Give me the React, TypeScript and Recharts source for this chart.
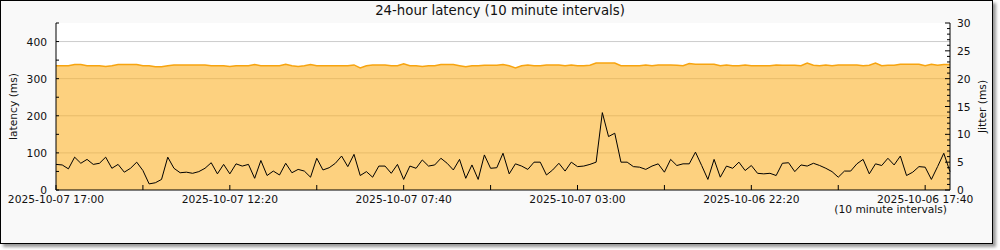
import { ComposedChart, Area, Line, XAxis, YAxis, CartesianGrid } from 'recharts'

// 10 minute samples, newest (2025-10-07 17:00) on the left
const latencyMs = [
  335, 335, 335, 338, 338, 335, 335, 335, 333, 335,
  338, 338, 338, 338, 335, 335, 332, 332, 335, 337,
  337, 337, 337, 337, 337, 335, 335, 335, 333, 335,
  335, 335, 338, 335, 335, 335, 335, 339, 335, 333,
  335, 338, 335, 335, 335, 335, 335, 335, 337, 329,
  335, 337, 337, 337, 335, 335, 340, 335, 335, 333,
  335, 335, 338, 338, 338, 335, 332, 335, 335, 336,
  336, 336, 338, 335, 329, 335, 337, 335, 335, 337,
  337, 337, 335, 337, 335, 335, 336, 342, 342, 342,
  342, 335, 335, 335, 335, 337, 335, 337, 337, 337,
  336, 335, 341, 339, 339, 339, 339, 335, 337, 335,
  335, 337, 335, 335, 335, 335, 337, 336, 336, 336,
  335, 342, 336, 335, 337, 335, 337, 337, 337, 337,
  335, 336, 342, 335, 336, 336, 339, 339, 339, 339,
  335, 339, 336, 338, 338,
]

const jitterMs = [
  4.6, 4.5, 3.8, 5.9, 4.8, 5.5, 4.6, 4.8, 5.9, 3.9,
  4.6, 3.2, 3.9, 5.0, 3.5, 1.1, 1.3, 1.9, 5.9, 3.9,
  3.1, 3.2, 3.0, 3.3, 3.9, 4.9, 2.9, 4.6, 2.9, 4.7,
  4.3, 4.6, 2.1, 5.3, 2.6, 3.4, 2.7, 4.8, 3.1, 3.7,
  3.4, 2.3, 5.7, 3.6, 4.0, 4.8, 6.1, 4.2, 6.4, 2.6,
  3.3, 2.3, 4.3, 4.3, 3.0, 4.6, 1.9, 4.3, 3.9, 5.4,
  4.3, 4.5, 5.7, 4.8, 3.6, 5.5, 2.1, 4.5, 1.9, 6.3,
  3.9, 4.0, 6.6, 2.9, 4.7, 4.3, 3.7, 5.0, 5.0, 2.7,
  3.6, 4.8, 3.4, 5.0, 4.2, 4.3, 4.6, 5.0, 13.9, 9.6,
  10.2, 5.0, 5.0, 4.2, 4.1, 3.7, 4.3, 4.7, 3.2, 5.5,
  4.4, 4.7, 4.7, 6.8, 4.4, 1.9, 5.5, 2.3, 4.3, 3.9,
  5.0, 3.5, 4.4, 3.0, 2.9, 3.0, 2.6, 4.8, 4.9, 3.3,
  4.5, 4.3, 4.8, 4.4, 3.9, 3.3, 2.3, 3.4, 3.4, 4.7,
  5.5, 2.9, 4.7, 4.4, 5.7, 4.5, 6.1, 2.6, 3.2, 4.2,
  4.1, 1.9, 4.2, 6.6, 3.3,
]

const labelIndex = [0, 28, 56, 84, 112, 140]
const timeLabels = [
  '2025-10-07 17:00',
  '2025-10-07 12:20',
  '2025-10-07 07:40',
  '2025-10-07 03:00',
  '2025-10-06 22:20',
  '2025-10-06 17:40',
]
const xTicks = [0, 14, 28, 42, 56, 70, 84, 98, 112, 126, 140]
const latencyTicks = [0, 50, 100, 150, 200, 250, 300, 350, 400, 450]
const jitterTicks = Array.from({ length: 31 }, (_, k) => k)
const gridTicks = [100, 200, 300, 400]
const latencyMax = 450

const data = latencyMs.map((v, i) => ({ i, latency: v, jitter: jitterMs[i] }))

const FONT = "'DejaVu Sans', sans-serif"
const FS = 10.7

const LeftTick = (props: any) => {
  const { x, y, payload } = props
  const v = payload.value
  const ax = x + 9
  return (
    <g>
      <line x1={ax} x2={ax + 3} y1={y} y2={y} stroke="#000" />
      {v % 100 === 0 && v < 450 && (
        <text x={x} y={y + 4} textAnchor="end" fontFamily={FONT} fontSize={FS} fill="#111">
          {v}
        </text>
      )}
    </g>
  )
}

const RightTick = (props: any) => {
  const { x, y, payload } = props
  const v = payload.value
  const ax = x - 7
  const major = v % 5 === 0
  return (
    <g>
      <line x1={ax} x2={ax - (major ? 5 : 3)} y1={y} y2={y} stroke="#000" />
      {major && (
        <text x={x} y={y + 4} textAnchor="start" fontFamily={FONT} fontSize={FS} fill="#111">
          {v}
        </text>
      )}
    </g>
  )
}

const BottomTick = (props: any) => {
  const { x, y, payload } = props
  const k = labelIndex.indexOf(payload.value)
  return (
    <g>
      <line x1={x} x2={x} y1={y} y2={y - 5} stroke="#000" />
      {k >= 0 && (
        <text x={x} y={y + 13} textAnchor="middle" fontFamily={FONT} fontSize={FS} fill="#111">
          {timeLabels[k]}
        </text>
      )}
    </g>
  )
}

const sideLabel = (text: string, dx: number) => (props: any) => {
  const vb = props.viewBox
  const cx = vb.x + dx
  const cy = vb.y + vb.height / 2
  return (
    <text
      x={cx}
      y={cy}
      transform={`rotate(-90 ${cx} ${cy})`}
      textAnchor="middle"
      dominantBaseline="central"
      fontFamily={FONT}
      fontSize={FS}
      fill="#111"
    >
      {text}
    </text>
  )
}

const intervalLabel = (props: any) => {
  const vb = props.viewBox
  return (
    <text x={vb.x + vb.width - 3} y={vb.y + 23} textAnchor="end" fontFamily={FONT} fontSize={FS} fill="#111">
      (10 minute intervals)
    </text>
  )
}

// grid only at the labelled latency values
const gridRows = ({ yAxis, offset }: any) => {
  if (yAxis && typeof yAxis.scale === 'function') return gridTicks.map((v) => yAxis.scale(v))
  return gridTicks.map((v) => offset.top + offset.height * (1 - v / latencyMax))
}

export default function App() {
  return (
    <div style={{ position: 'absolute', left: 0, top: 0, width: 1000, height: 250 }}>
      <div
        style={{
          position: 'absolute',
          left: 0,
          top: 0,
          width: 991,
          height: 242,
          background: '#f9f9f9',
          border: '1px solid #000',
          boxShadow: '3px 3px 3px #999',
        }}
      />
      <div
        style={{
          position: 'absolute',
          left: 0,
          top: 3,
          width: 1000,
          textAlign: 'center',
          fontFamily: FONT,
          fontSize: 13.3,
          lineHeight: '15px',
          color: '#111',
        }}
      >
        24-hour latency (10 minute intervals)
      </div>
      <div style={{ position: 'absolute', left: 0, top: 0 }}>
        <ComposedChart
          width={1000}
          height={250}
          data={data}
          margin={{ top: 23, right: 0, left: 0, bottom: 40 }}
        >
          <CartesianGrid
            yAxisId="left"
            vertical={false}
            stroke="#cccccc"
            fill="#ffffff"
            horizontalCoordinatesGenerator={gridRows}
          />
          <XAxis
            dataKey="i"
            type="number"
            domain={[0, 144]}
            ticks={xTicks}
            interval={0}
            height={20}
            axisLine={{ stroke: '#000' }}
            tickLine={false}
            tickSize={0}
            tickMargin={0}
            tick={BottomTick}
            label={{ content: intervalLabel }}
          />
          <YAxis
            yAxisId="left"
            orientation="left"
            width={56}
            domain={[0, latencyMax]}
            ticks={latencyTicks}
            interval={0}
            axisLine={{ stroke: '#000' }}
            tickLine={false}
            tickSize={0}
            tickMargin={9}
            tick={LeftTick}
            label={{ content: sideLabel('latency (ms)', 13.5) }}
          />
          <YAxis
            yAxisId="right"
            orientation="right"
            width={50}
            domain={[0, 30]}
            ticks={jitterTicks}
            interval={0}
            axisLine={{ stroke: '#000' }}
            tickLine={false}
            tickSize={0}
            tickMargin={7}
            tick={RightTick}
            label={{ content: sideLabel('Jitter (ms)', 32) }}
          />
          <Area
            yAxisId="left"
            type="linear"
            dataKey="latency"
            stroke="#f7a40f"
            strokeWidth={1.5}
            fill="#fcb126"
            fillOpacity={0.59}
            dot={false}
            activeDot={false}
            isAnimationActive={false}
          />
          <Line
            yAxisId="right"
            type="linear"
            dataKey="jitter"
            stroke="#000"
            strokeWidth={1}
            dot={false}
            activeDot={false}
            isAnimationActive={false}
          />
        </ComposedChart>
      </div>
    </div>
  )
}
